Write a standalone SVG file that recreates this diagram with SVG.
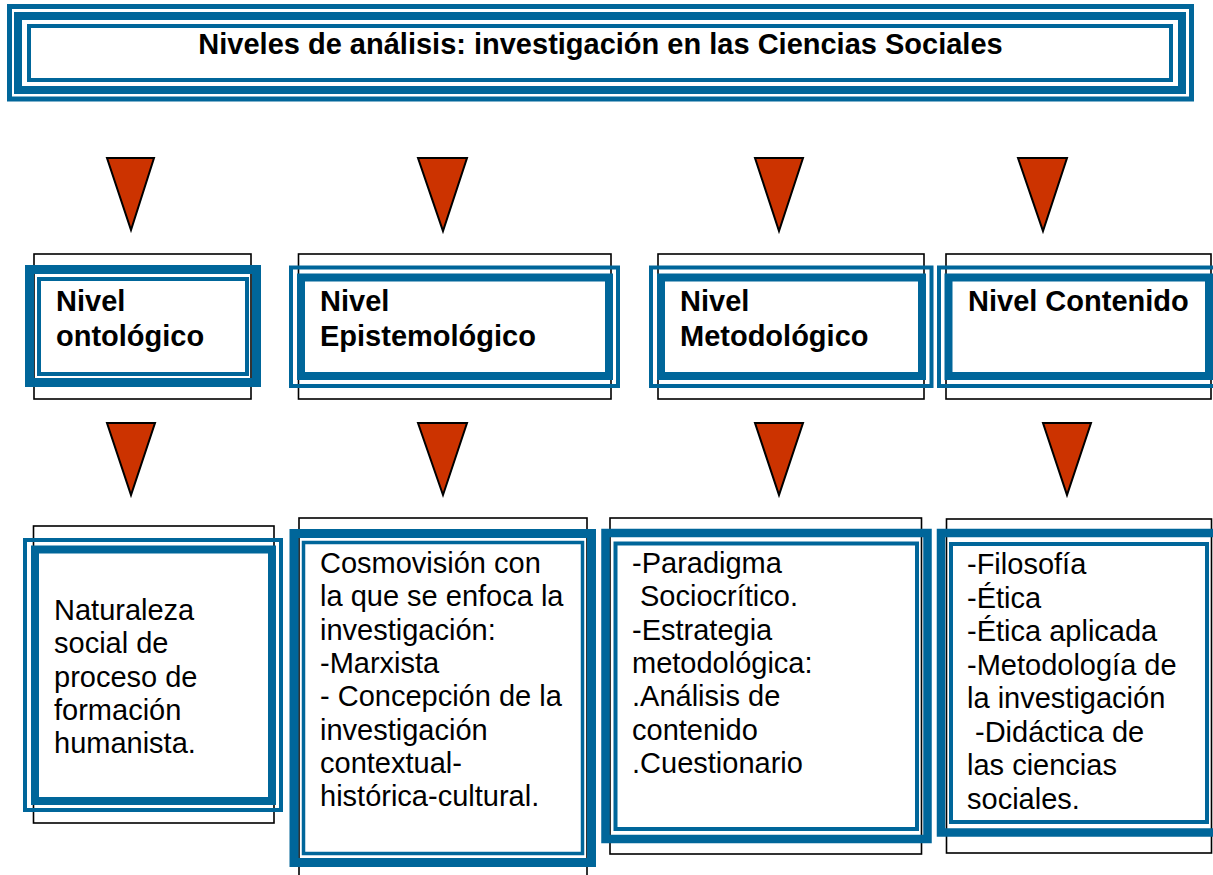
<svg xmlns="http://www.w3.org/2000/svg" width="1213" height="875" viewBox="0 0 1213 875">
<style>
.bg{fill:#ffffff}
.blk{fill:none;stroke:#000;stroke-width:1.6}
.bl{fill:none;stroke:#00669A}
.tri{fill:#CC3300;stroke:#000;stroke-width:2;stroke-linejoin:miter}
.t{font-family:"Liberation Sans",Arial,sans-serif;font-size:29px;fill:#000}
.b{font-weight:bold}
</style>
<rect class="bg" x="0" y="0" width="1213" height="875"/>
<g id="title">
<rect class="bl" x="9.5" y="6.5" width="1182" height="92.5" stroke-width="5"/>
<rect class="bl" x="18" y="16" width="1164" height="74" stroke-width="8"/>
<rect class="bl" x="29" y="26" width="1142" height="54" stroke-width="4"/>
<text class="t b" x="600.5" y="54" text-anchor="middle">Niveles de análisis: investigación en las Ciencias Sociales</text>
</g>
<g id="connectors">
<polygon class="tri" points="107,158 154,158 131,230"/>
<polygon class="tri" points="418,158 467,158 443,231"/>
<polygon class="tri" points="755,158 803,158 779,231"/>
<polygon class="tri" points="1018,158 1067,158 1043,231"/>
<polygon class="tri" points="107,423 155,423 131,495"/>
<polygon class="tri" points="418,423 467,423 443,495"/>
<polygon class="tri" points="755,423 803,423 779,495"/>
<polygon class="tri" points="1043,423 1091,423 1067,495"/>
</g>
<g id="nivel-ontologico">
<rect class="blk" x="34" y="254" width="217" height="145"/>
<rect class="bl" x="29.5" y="269.5" width="227" height="113" stroke-width="9"/>
<rect class="bl" x="39" y="279" width="208" height="95" stroke-width="4"/>
<text class="t b" x="56" y="311">Nivel</text>
<text class="t b" x="56" y="346">ontológico</text>
</g>
<g id="nivel-epistemologico">
<rect class="blk" x="298.5" y="254" width="312.5" height="145"/>
<rect class="bl" x="291" y="267.5" width="327" height="118.5" stroke-width="4"/>
<rect class="bl" x="301" y="277.5" width="308" height="98.5" stroke-width="8"/>
<text class="t b" x="320" y="311">Nivel</text>
<text class="t b" x="320" y="346">Epistemológico</text>
</g>
<g id="nivel-metodologico">
<rect class="blk" x="658" y="254" width="266" height="145"/>
<rect class="bl" x="651" y="267.5" width="280.5" height="118.5" stroke-width="4"/>
<rect class="bl" x="661" y="277.5" width="261" height="98.5" stroke-width="8"/>
<text class="t b" x="680" y="311">Nivel</text>
<text class="t b" x="680" y="346">Metodológico</text>
</g>
<g id="nivel-contenido">
<rect class="blk" x="946" y="254" width="265" height="145"/>
<rect class="bl" x="939" y="267.5" width="290" height="118.5" stroke-width="4"/>
<rect class="bl" x="948.5" y="277.5" width="260.5" height="98.5" stroke-width="8"/>
<text class="t b" x="968" y="311">Nivel Contenido</text>
</g>
<g id="contenido-ontologico">
<rect class="blk" x="33.5" y="526" width="240.5" height="297"/>
<rect class="bl" x="25" y="540" width="256" height="270" stroke-width="4"/>
<rect class="bl" x="35" y="549.5" width="237" height="251.5" stroke-width="8"/>
<text class="t" x="54" y="620">Naturaleza</text>
<text class="t" x="54" y="653.3">social de</text>
<text class="t" x="54" y="686.6">proceso de</text>
<text class="t" x="54" y="719.9">formación</text>
<text class="t" x="54" y="753.2">humanista.</text>
</g>
<g id="contenido-epistemologico">
<rect class="blk" x="299" y="518" width="288" height="380"/>
<rect class="bl" x="294" y="533.5" width="297.5" height="329" stroke-width="9"/>
<rect class="bl" x="303.5" y="542.5" width="279" height="311" stroke-width="3.5"/>
<text class="t" x="320" y="573">Cosmovisión con</text>
<text class="t" x="320" y="606.3">la que se enfoca la</text>
<text class="t" x="320" y="639.6">investigación:</text>
<text class="t" x="320" y="672.9">-Marxista</text>
<text class="t" x="320" y="706.2">- Concepción de la</text>
<text class="t" x="320" y="739.5">investigación</text>
<text class="t" x="320" y="772.8">contextual-</text>
<text class="t" x="320" y="806.1">histórica-cultural.</text>
</g>
<g id="contenido-metodologico">
<rect class="blk" x="610" y="518" width="311.5" height="336"/>
<rect class="bl" x="605.5" y="533" width="322" height="306" stroke-width="8.5"/>
<rect class="bl" x="615.5" y="543.5" width="301.5" height="285.5" stroke-width="4"/>
<text class="t" x="632" y="573">-Paradigma</text>
<text class="t" x="640" y="606.3">Sociocrítico.</text>
<text class="t" x="632" y="639.6">-Estrategia</text>
<text class="t" x="632" y="672.9">metodológica:</text>
<text class="t" x="632" y="706.2">.Análisis de</text>
<text class="t" x="632" y="739.5">contenido</text>
<text class="t" x="632" y="772.8">.Cuestionario</text>
</g>
<g id="contenido-contenido">
<rect class="blk" x="946.5" y="519" width="265" height="334"/>
<rect class="bl" x="941" y="533" width="290" height="299.5" stroke-width="8.5"/>
<rect class="bl" x="951" y="544" width="256" height="278" stroke-width="4"/>
<text class="t" x="967" y="574">-Filosofía</text>
<text class="t" x="967" y="607.5">-Ética</text>
<text class="t" x="967" y="641">-Ética aplicada</text>
<text class="t" x="967" y="674.5">-Metodología de</text>
<text class="t" x="967" y="708">la investigación</text>
<text class="t" x="975" y="741.5">-Didáctica de</text>
<text class="t" x="967" y="775">las ciencias</text>
<text class="t" x="967" y="808.5">sociales.</text>
</g>
</svg>
